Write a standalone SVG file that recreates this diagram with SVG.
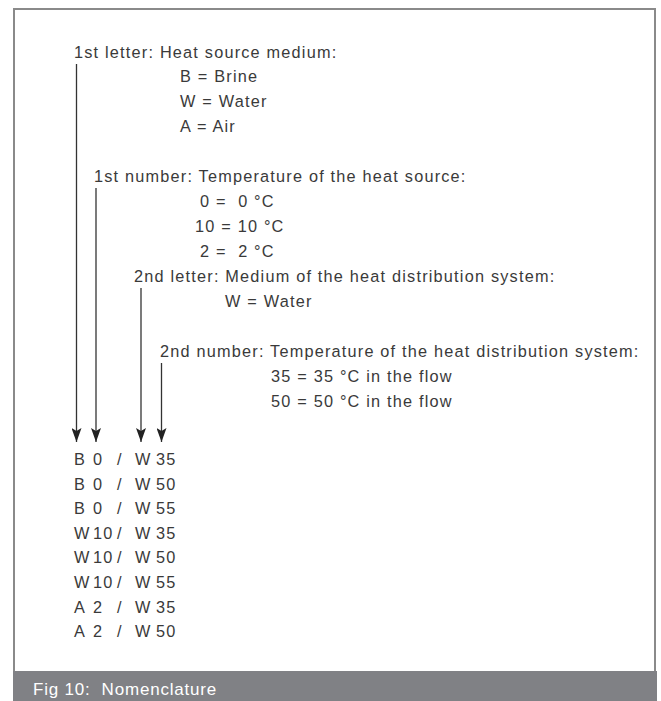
<svg xmlns="http://www.w3.org/2000/svg" width="661" height="701" viewBox="0 0 661 701">
<style>
  text { font-family: "Liberation Sans", Arial, sans-serif; font-size: 16.3px; fill: #3a3a3a; letter-spacing: 1.2px; white-space: pre; }
  .cap { fill: #ffffff; font-size: 17px; letter-spacing: 0.8px; }
  .conn { stroke: #333333; stroke-width: 1.3; fill: none; marker-end: url(#arr); }
</style>
<defs>
  <marker id="arr" markerUnits="userSpaceOnUse" markerWidth="14" markerHeight="10" refX="14" refY="5" orient="auto" viewBox="0 0 14 10">
    <path d="M0,0 L14,5 L0,10 L3,5 Z" fill="#222222"/>
  </marker>
</defs>
<rect x="0" y="0" width="661" height="701" fill="#ffffff"/>
<rect x="14" y="9" width="641" height="670" fill="#ffffff" stroke="#8a8a8a" stroke-width="2"/>
<rect x="13" y="671" width="644" height="30" fill="#808185"/>
<text class="cap" x="33" y="695">Fig 10:  Nomenclature</text>

<g id="connectors">
  <path class="conn" d="M76.5,64 V442"/>
  <path class="conn" d="M96,188 V442"/>
  <path class="conn" d="M141,288 V442"/>
  <path class="conn" d="M161.5,363 V442"/>
</g>

<g id="letter1">
  <text x="74" y="57.5">1st letter: Heat source medium:</text>
  <text x="180" y="82">B = Brine</text>
  <text x="180" y="107">W = Water</text>
  <text x="180" y="132">A = Air</text>
</g>
<g id="number1">
  <text x="94" y="182">1st number: Temperature of the heat source:</text>
  <text x="200" y="207">0 =  0 °C</text>
  <text x="195" y="232">10 = 10 °C</text>
  <text x="200" y="257">2 =  2 °C</text>
</g>
<g id="letter2">
  <text x="134" y="282">2nd letter: Medium of the heat distribution system:</text>
  <text x="225" y="307">W = Water</text>
</g>
<g id="number2">
  <text x="160" y="357">2nd number: Temperature of the heat distribution system:</text>
  <text x="271" y="382">35 = 35 °C in the flow</text>
  <text x="271" y="407">50 = 50 °C in the flow</text>
</g>

<g id="codes">
  <text x="74" y="465">B</text><text x="93" y="465">0</text><text x="117" y="465">/</text><text x="135" y="465">W</text><text x="156" y="465">35</text>
  <text x="74" y="489.6">B</text><text x="93" y="489.6">0</text><text x="117" y="489.6">/</text><text x="135" y="489.6">W</text><text x="156" y="489.6">50</text>
  <text x="74" y="514.2">B</text><text x="93" y="514.2">0</text><text x="117" y="514.2">/</text><text x="135" y="514.2">W</text><text x="156" y="514.2">55</text>
  <text x="74" y="538.8">W</text><text x="93" y="538.8">10</text><text x="117" y="538.8">/</text><text x="135" y="538.8">W</text><text x="156" y="538.8">35</text>
  <text x="74" y="563.4">W</text><text x="93" y="563.4">10</text><text x="117" y="563.4">/</text><text x="135" y="563.4">W</text><text x="156" y="563.4">50</text>
  <text x="74" y="588">W</text><text x="93" y="588">10</text><text x="117" y="588">/</text><text x="135" y="588">W</text><text x="156" y="588">55</text>
  <text x="74" y="612.6">A</text><text x="93" y="612.6">2</text><text x="117" y="612.6">/</text><text x="135" y="612.6">W</text><text x="156" y="612.6">35</text>
  <text x="74" y="637.2">A</text><text x="93" y="637.2">2</text><text x="117" y="637.2">/</text><text x="135" y="637.2">W</text><text x="156" y="637.2">50</text>
</g>
</svg>
